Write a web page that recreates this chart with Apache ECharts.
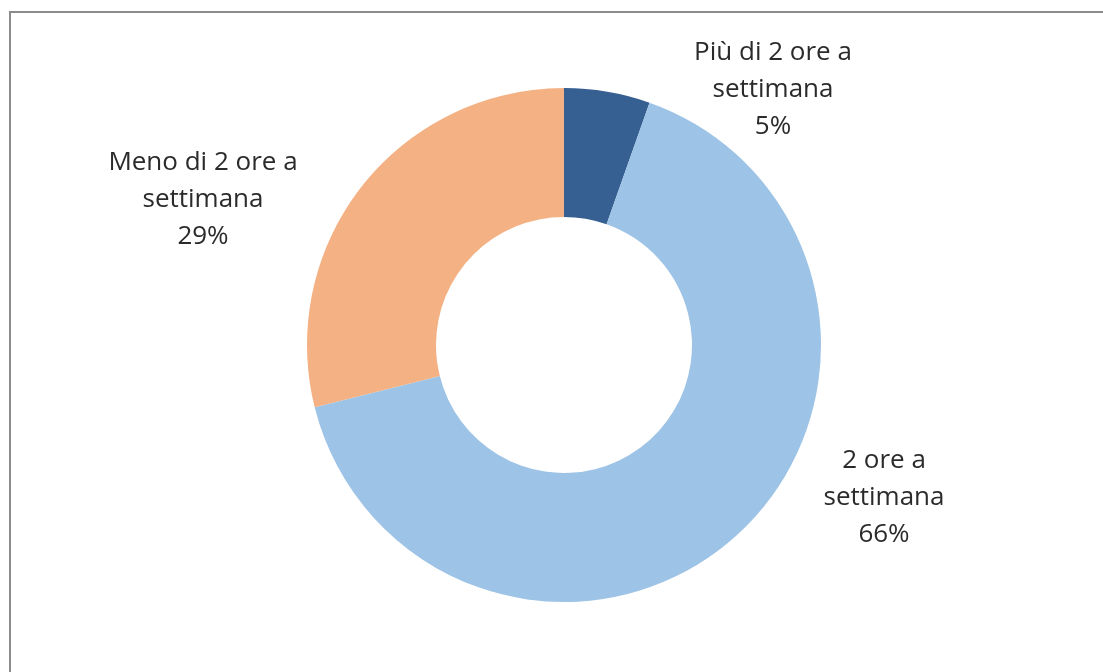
<!DOCTYPE html>
<html>
<head>
<meta charset="utf-8">
<script src="https://cdn.jsdelivr.net/npm/echarts@6/dist/echarts.min.js"></script>
<style>
  html, body { margin: 0; padding: 0; background: #fff; }
  #chart { width: 1103px; height: 672px; }
</style>
</head>
<body>
<div id="chart"></div>
<script>
// categorie e valori (quota %)
const categories = ['Più di 2 ore a\nsettimana', '2 ore a\nsettimana', 'Meno di 2 ore a\nsettimana'];
const values = [5.4, 65.7, 28.9];
const colors = ['#376092', '#9dc3e6', '#f4b183'];
// posizione delle etichette (centro del blocco di testo)
const labelAnchors = [[773, 90], [884, 498], [203, 200]];

const chart = echarts.init(document.getElementById('chart'), null, { renderer: 'canvas' });

chart.setOption({
  backgroundColor: '#fff',
  animation: false,
  graphic: [{
    type: 'rect',
    shape: { x: 10, y: 12, width: 1110, height: 700 },
    style: { fill: 'none', stroke: '#8c8c8c', lineWidth: 2 },
    silent: true,
  }],
  series: [{
    type: 'pie',
    center: [564, 345],
    radius: [128, 257],
    startAngle: 90,
    clockwise: true,
    data: categories.map((name, i) => ({
      name,
      value: values[i],
      itemStyle: { color: colors[i] },
    })),
    label: {
      show: true,
      position: 'outside',
      formatter: (p) => `${p.name}\n${Math.round(p.value)}%`,
      fontFamily: 'Open Sans, Noto Sans, sans-serif',
      fontSize: 26,
      lineHeight: 37,
      color: '#2b2b2b',
      align: 'center',
    },
    labelLine: { show: false },
    labelLayout: (params) => ({
      x: labelAnchors[params.dataIndex][0],
      y: labelAnchors[params.dataIndex][1],
      align: 'center',
      verticalAlign: 'middle',
    }),
    emphasis: { disabled: true },
  }],
});
</script>
</body>
</html>
